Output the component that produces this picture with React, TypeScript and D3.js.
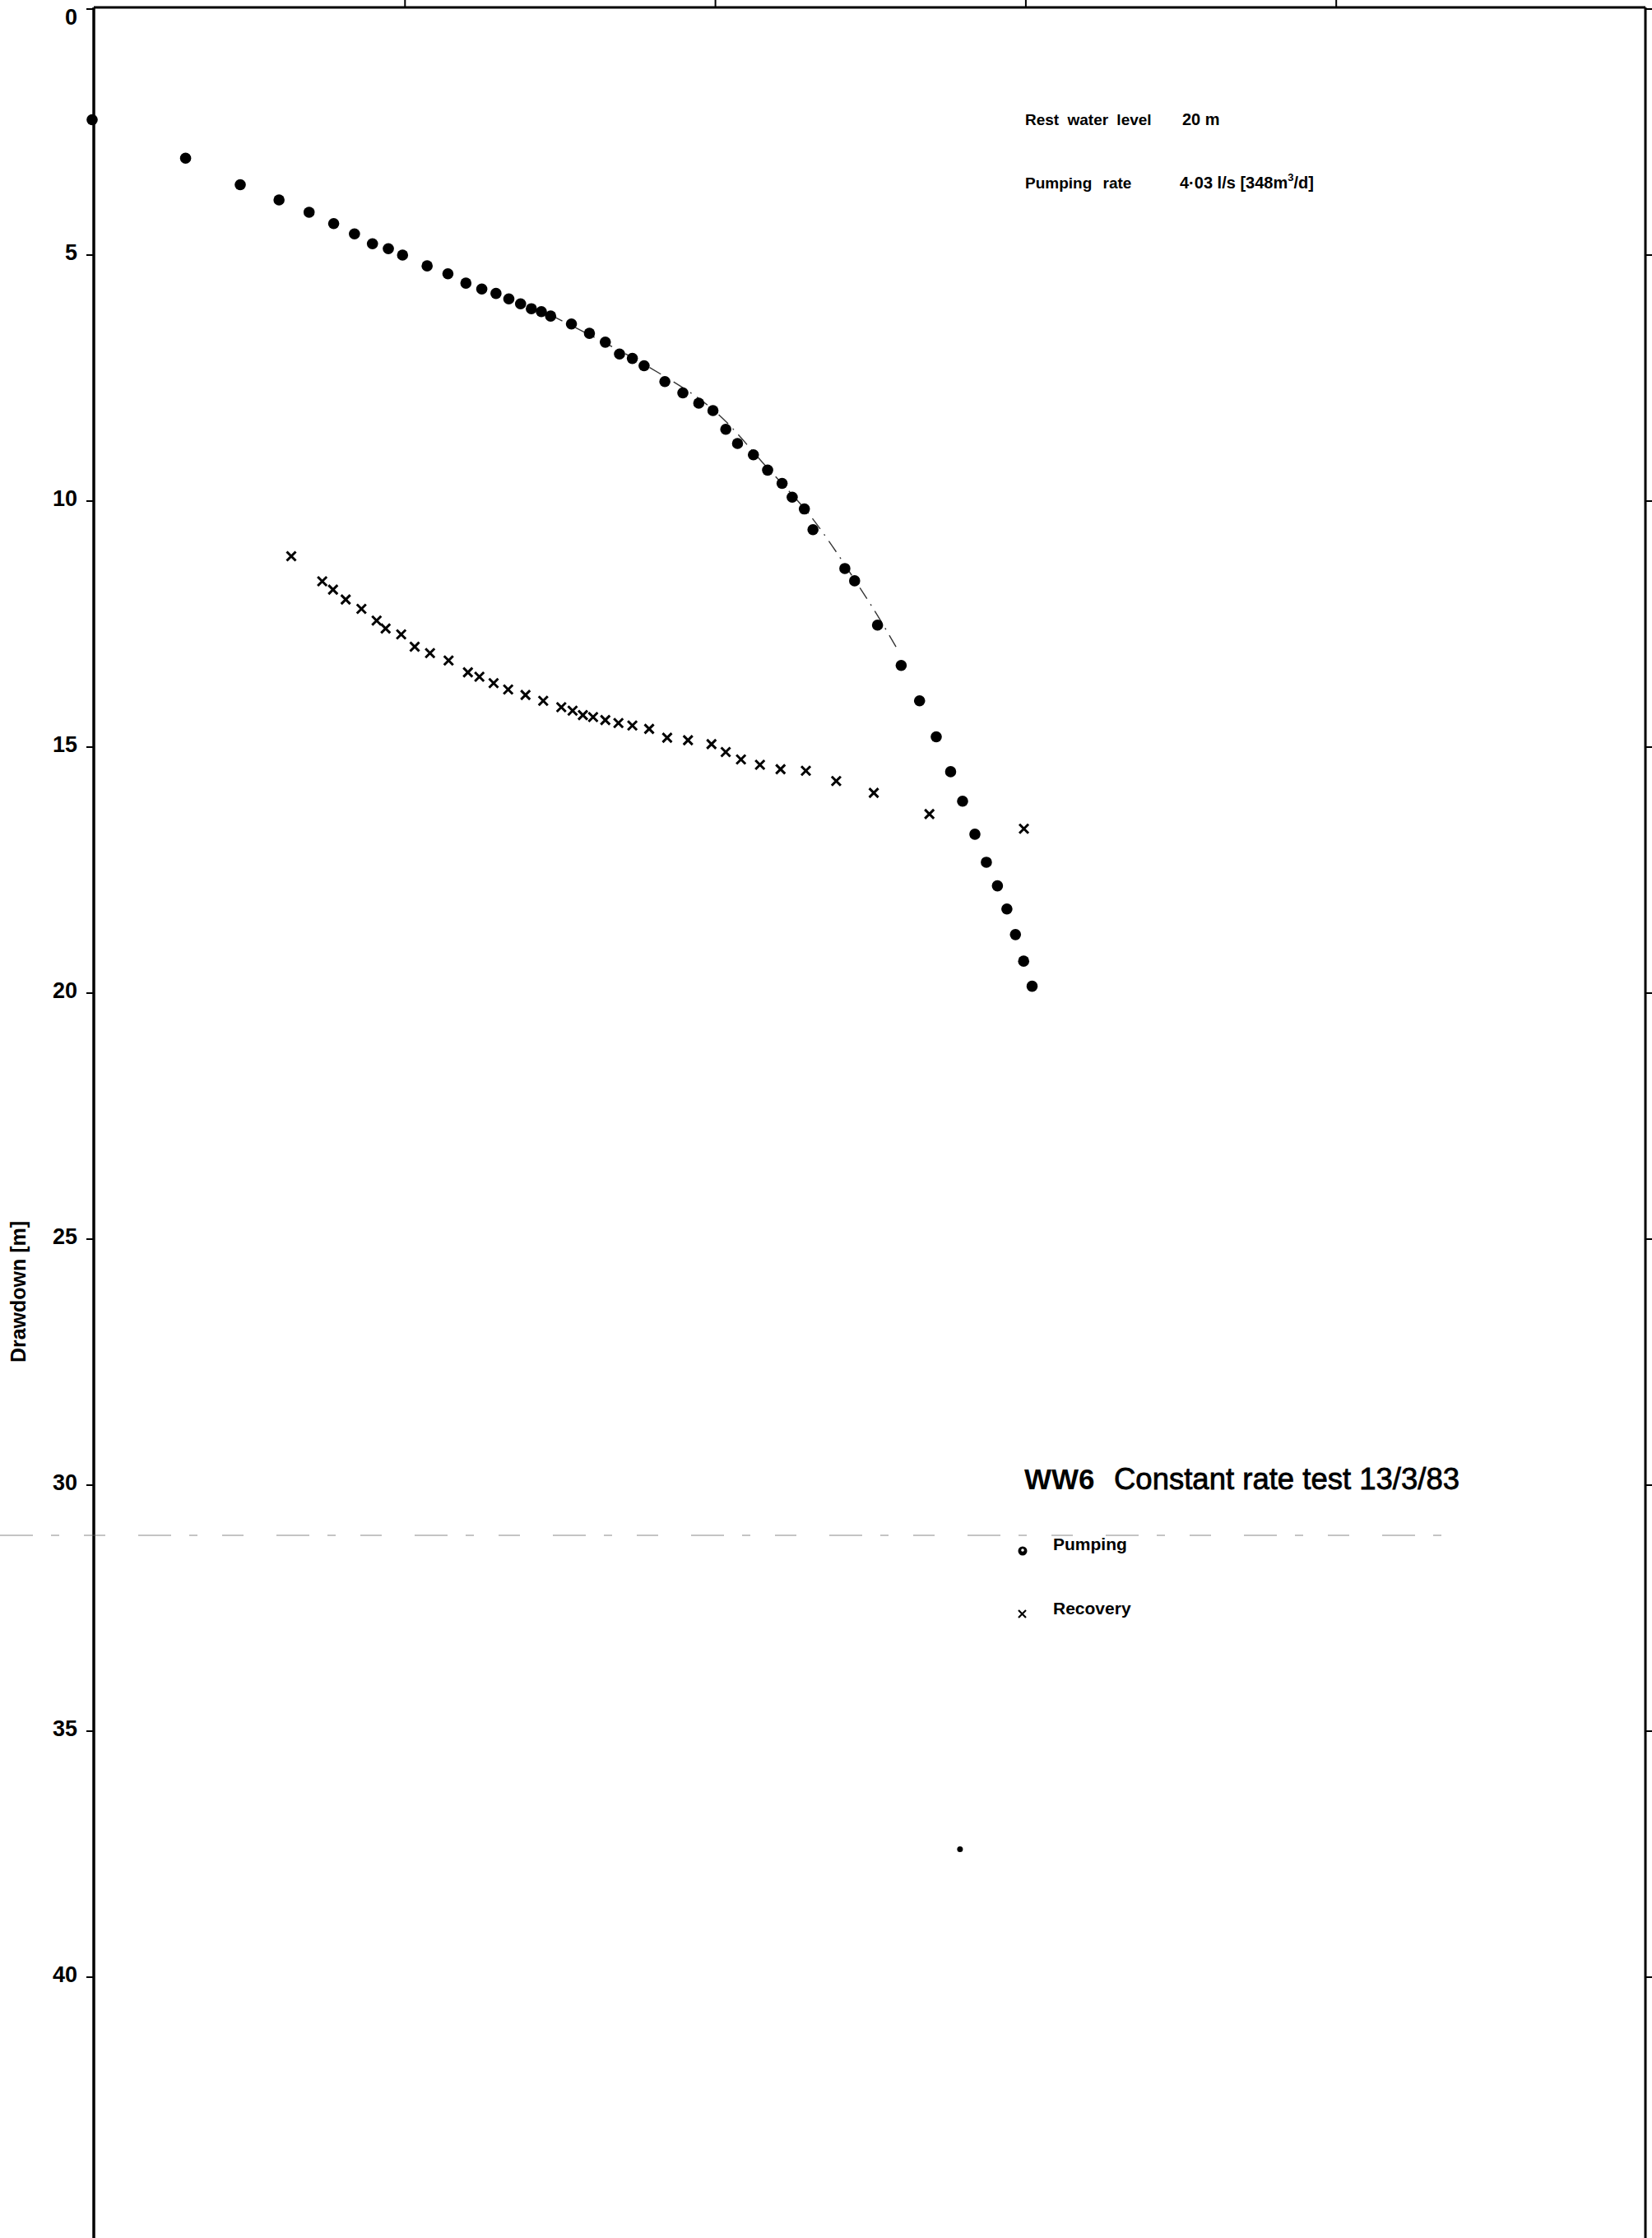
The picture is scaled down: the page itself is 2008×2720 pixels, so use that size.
import React from "react";
import * as d3 from "d3";

// ---- data ----
const pumpingTime = [1,2,3,4,5,6,7,8,9,10,12,14,16,18,20,22,24,26,28,30,35,40,45,50,55,60,70,80,90,100,110,120,135,150,167,180,197,210,266,286,339,404,463,524,583,637,698,760,825,885,943,1002,1067];
const pumpingDrawdown = [2.25,3.03,3.57,3.88,4.13,4.36,4.57,4.77,4.87,5.0,5.22,5.38,5.57,5.69,5.78,5.89,5.99,6.09,6.15,6.24,6.4,6.59,6.77,7.01,7.1,7.25,7.57,7.8,8.01,8.16,8.54,8.83,9.06,9.37,9.64,9.92,10.16,10.58,11.37,11.62,12.52,13.34,14.06,14.79,15.5,16.1,16.77,17.34,17.82,18.29,18.81,19.35,19.86];

const recoveryTime = [4.38,5.51,5.97,6.56,7.37,8.25,8.82,9.9,10.94,12.26,14.07,16.24,17.68,19.65,21.89,24.89,28.39,32.47,35.3,38.1,41.1,45.0,49.6,55.0,62.3,71.2,83.1,98.9,109.9,123.1,141.7,165.1,199.2,249.5,329.7,498,1004];
const recoveryDrawdown = [11.12,11.63,11.8,12.0,12.19,12.43,12.59,12.71,12.96,13.09,13.24,13.48,13.57,13.7,13.83,13.94,14.06,14.19,14.26,14.35,14.39,14.45,14.51,14.56,14.63,14.81,14.86,14.94,15.1,15.25,15.36,15.45,15.48,15.69,15.93,16.36,16.66];

const fitTime = [30,60,100,150,200,236,300,340,392];
const fitDrawdown = [6.22,7.22,8.14,9.33,10.2,10.81,11.8,12.34,13.0];

const strayTime = [625];
const strayDrawdown = [37.4];

const yTicks = [0,5,10,15,20,25,30,35,40];
const xTopTicks = [10,100,1000,10000];

const W = 2008, H = 2720;

export default function App() {
  const x = d3.scaleLog().domain([1, 1e5]).range([112, 1998.5]);
  const y = d3.scaleLinear().domain([0, 45]).range([11, 11 + 45 * 59.8]);
  const axisX = 114;
  const topY = 9;
  const rightX = 2000;

  const fitLine = d3.line<number>()
    .x((_, i) => x(fitTime[i]))
    .y((d) => y(d))
    .curve(d3.curveCatmullRom)(fitDrawdown) || "";

  const font = "'Liberation Sans', Arial, Helvetica, sans-serif";

  return (
    <>
      <style>{`body{margin:0}`}</style>
      <svg width={W} height={H} style={{ display: "block", background: "#fff" }} fontFamily={font}>
        {/* frame */}
        <line x1={axisX} y1={topY} x2={axisX} y2={H} stroke="#000" strokeWidth={3.5} />
        <line x1={axisX} y1={topY} x2={rightX} y2={topY} stroke="#000" strokeWidth={3} />
        <line x1={rightX} y1={topY} x2={rightX} y2={H} stroke="#000" strokeWidth={3} />

        {/* top ticks */}
        {xTopTicks.map((t) => (
          <line key={"xt" + t} x1={x(t) + 3} x2={x(t) + 3} y1={0} y2={topY} stroke="#000" strokeWidth={2} />
        ))}

        {/* y ticks & labels */}
        {yTicks.map((v) => (
          <g key={"yt" + v}>
            <line x1={axisX - 9} x2={axisX} y1={y(v)} y2={y(v)} stroke="#000" strokeWidth={2} />
            <line x1={rightX} x2={W} y1={y(v)} y2={y(v)} stroke="#000" strokeWidth={2} />
            <text
              x={94}
              y={v === 0 ? 20 : y(v) - 4}
              dy="0.36em"
              textAnchor="end"
              fontSize={27}
              fontWeight="bold"
            >
              {v}
            </text>
          </g>
        ))}

        {/* y axis title */}
        <text
          transform={`translate(31, ${1570}) rotate(-90)`}
          textAnchor="middle"
          fontSize={25}
          fontWeight="bold"
        >
          Drawdown [m]
        </text>

        {/* fold line artifact of the scan */}
        <line x1={0} x2={1775} y1={y(31.02)} y2={y(31.02)} stroke="#666" strokeWidth={1.5} strokeDasharray="40 22 10 30 26 40" opacity={0.5} />

        {/* fitted curve */}
        <path d={fitLine} fill="none" stroke="#000" strokeWidth={1.4} strokeDasharray="16 8 2 8" opacity={0.8} />

        {/* pumping points */}
        {pumpingTime.map((t, i) => (
          <circle key={"p" + i} cx={x(t)} cy={y(pumpingDrawdown[i])} r={6.8} fill="#000" />
        ))}

        {/* recovery points */}
        {recoveryTime.map((t, i) => {
          const cx = x(t), cy = y(recoveryDrawdown[i]), s = 5.5;
          return (
            <path key={"r" + i} d={`M${cx - s},${cy - s}L${cx + s},${cy + s}M${cx - s},${cy + s}L${cx + s},${cy - s}`} stroke="#000" strokeWidth={3} />
          );
        })}

        {/* stray mark */}
        {strayTime.map((t, i) => (
          <circle key={"s" + i} cx={x(t)} cy={y(strayDrawdown[i])} r={3.5} fill="#000" />
        ))}

        {/* annotations */}
        <text x={1246} y={152} fontSize={19} fontWeight="bold" wordSpacing={5}>Rest water level</text>
        <text x={1437} y={152} fontSize={20} fontWeight="bold">20 m</text>
        <text x={1246} y={229} fontSize={19} fontWeight="bold" wordSpacing={8}>Pumping rate</text>
        <text x={1434} y={229} fontSize={20} fontWeight="bold">
          4·03 l/s [348m<tspan dy={-9} fontSize={13}>3</tspan><tspan dy={9}>/d]</tspan>
        </text>

        {/* title */}
        <text x={1245} y={1810} fontSize={35}>
          <tspan fontWeight="bold">WW6</tspan>
          <tspan x={1354} fontSize={36.5} stroke="#000" strokeWidth={0.8}>Constant rate test 13/3/83</tspan>
        </text>

        {/* legend */}
        <circle cx={1243} cy={1885} r={5.5} fill="#000" />
        <circle cx={1243} cy={1884} r={1.8} fill="#fff" />
        <text x={1280} y={1884} fontSize={21} fontWeight="bold">Pumping</text>
        <path d={`M1238,1957L1247,1966M1238,1966L1247,1957`} stroke="#000" strokeWidth={2.2} />
        <text x={1280} y={1962} fontSize={21} fontWeight="bold">Recovery</text>
      </svg>
    </>
  );
}
